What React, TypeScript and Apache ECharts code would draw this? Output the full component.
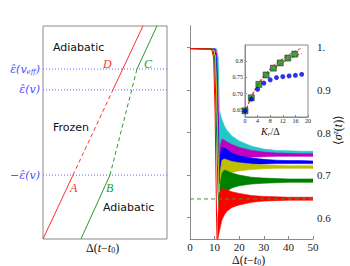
import React, { useEffect, useRef } from "react";
import * as echarts from "echarts";

// ---------- Left panel (schematic) ----------
const levelValues = [0.3, 0.7, 0.798];
const redSolidLow = [[0, 0], [0.242, 0.3]];
const redDashed = [[0.242, 0.3], [0.564, 0.7]];
const redSolidHigh = [[0.564, 0.7], [0.806, 1]];
const greenSolidLow = [[0.306, 0], [0.54, 0.3]];
const greenDashed = [[0.54, 0.3], [0.758, 0.798]];
const greenSolidHigh = [[0.758, 0.798], [0.919, 1]];

// ---------- Right panel (time evolution) ----------
const yTickValues = [0.6, 0.7, 0.8, 0.9, 1.0];
const yTickLabels = ["0.6", "0.7", "0.8", "0.9", "1."];
const steadyRef = [[0, 0.644], [50, 0.644]];

const bandT = [12, 13, 14, 15, 17, 20, 25, 30, 35, 40, 45, 50];
const redT = [11.3, 12, 13, 14, 15, 17, 20, 25, 30, 35, 40, 45, 50];
const redLo = [0.55, 0.57, 0.595, 0.607, 0.615, 0.624, 0.63, 0.636, 0.639, 0.64, 0.641, 0.641, 0.641];
const redHi = [0.6, 0.66, 0.668, 0.667, 0.665, 0.661, 0.657, 0.652, 0.65, 0.649, 0.648, 0.648, 0.648];
const greenLo = [0.62, 0.645, 0.655, 0.662, 0.67, 0.675, 0.679, 0.681, 0.682, 0.683, 0.683, 0.683];
const greenHi = [0.67, 0.705, 0.712, 0.71, 0.705, 0.7, 0.695, 0.693, 0.692, 0.691, 0.691, 0.691];
const yellowLo = [0.66, 0.685, 0.695, 0.7, 0.706, 0.71, 0.713, 0.715, 0.716, 0.716, 0.716, 0.716];
const yellowHi = [0.7, 0.735, 0.738, 0.736, 0.732, 0.729, 0.726, 0.724, 0.723, 0.722, 0.722, 0.722];
const blueLo = [0.68, 0.7, 0.708, 0.713, 0.718, 0.722, 0.725, 0.726, 0.727, 0.727, 0.727, 0.727];
const blueHi = [0.74, 0.765, 0.765, 0.76, 0.752, 0.745, 0.74, 0.737, 0.735, 0.734, 0.734, 0.733];
const magentaLo = [0.7, 0.72, 0.728, 0.733, 0.737, 0.74, 0.742, 0.743, 0.744, 0.744, 0.744, 0.744];
const magentaHi = [0.76, 0.785, 0.782, 0.778, 0.772, 0.765, 0.758, 0.754, 0.752, 0.751, 0.75, 0.75];
const cyanLo = [0.72, 0.735, 0.74, 0.742, 0.744, 0.746, 0.747, 0.748, 0.749, 0.749, 0.749, 0.749];
const cyanHi = [0.85, 0.83, 0.815, 0.805, 0.792, 0.78, 0.768, 0.761, 0.758, 0.757, 0.756, 0.756];

const redDrop = [[0, 0.997], [8.8, 0.996], [9.6, 0.975], [10.2, 0.85], [10.8, 0.6], [11.2, 0.5]];
const greenDrop = [[0, 0.997], [9.2, 0.996], [10.0, 0.975], [10.6, 0.85], [11.4, 0.66], [12, 0.62]];
const yellowDrop = [[0, 0.997], [9.6, 0.996], [10.4, 0.975], [11.0, 0.85], [11.7, 0.69], [12, 0.66]];
const blueDrop = [[0, 0.997], [10.0, 0.996], [10.7, 0.975], [11.2, 0.85], [11.8, 0.71], [12, 0.68]];
const magentaDrop = [[0, 0.997], [10.4, 0.996], [11.0, 0.975], [11.5, 0.85], [11.9, 0.72], [12, 0.7]];
const cyanDrop = [[0, 0.997], [10.8, 0.996], [11.4, 0.975], [11.8, 0.88], [12, 0.72]];

// ---------- Inset ----------
const insetYTicks = [0.65, 0.7, 0.75, 0.8];
const insetYLabels = ["0.65", "0.70", "0.75", "0.8"];
const blueKr = [0, 2, 4, 6, 8, 10, 12, 14, 16, 18];
const blueVals = [0.647, 0.683, 0.713, 0.732, 0.742, 0.749, 0.752, 0.754, 0.756, 0.759];
const squareKr = [0, 2, 4.4, 6.7, 9, 11.2, 13.6, 15.8];
const squareVals = [0.647, 0.687, 0.728, 0.757, 0.778, 0.794, 0.809, 0.821];
const fitKr = [0, 2, 4, 6, 8, 10, 12, 14, 16, 18];
const fitUpper = [0.64, 0.69, 0.727, 0.755, 0.776, 0.793, 0.807, 0.82, 0.83, 0.84];
const fitLower = [0.64, 0.688, 0.722, 0.748, 0.767, 0.782, 0.795, 0.806, 0.815, 0.823];

const SERIF = "Liberation Serif";
const AXIS = "#8a8a8a";

function seg(data: number[][], color: string, dashed: boolean) {
  return {
    type: "line", xAxisIndex: 0, yAxisIndex: 0, data, symbol: "none",
    lineStyle: { color, width: 1, type: dashed ? [4, 3] : "solid" }, silent: true,
  };
}

function band(t: number[], lo: number[], hi: number[], color: string) {
  return {
    type: "custom", xAxisIndex: 1, yAxisIndex: 1, silent: true, clip: true,
    data: t.map((x, i) => [x, lo[i], hi[i]]),
    renderItem: (params: any, api: any) => {
      if (params.dataIndex !== 0) return null;
      const n = params.dataInsideLength;
      const upper: number[][] = [];
      const lower: number[][] = [];
      for (let j = 0; j < n; j++) {
        upper.push(api.coord([api.value(0, j), api.value(2, j)]));
        lower.push(api.coord([api.value(0, j), api.value(1, j)]));
      }
      return {
        type: "polygon",
        shape: { points: upper.concat(lower.reverse()) },
        style: { fill: color, stroke: color, lineWidth: 0.6 },
      };
    },
  };
}

function drop(data: number[][], color: string) {
  return {
    type: "line", xAxisIndex: 1, yAxisIndex: 1, data, symbol: "none",
    lineStyle: { color, width: 1 }, silent: true,
  };
}

const subRich = (size: number, italic: boolean) => ({
  a: { fontFamily: SERIF, fontSize: size, fill: "#111" },
  i: { fontFamily: SERIF, fontStyle: "italic", fontSize: size, fill: "#111" },
  s: { fontFamily: SERIF, fontStyle: italic ? "italic" : "normal", fontSize: Math.round(size * 0.68), fill: "#111", padding: [Math.round(size * 0.45), 0, 0, 0] },
});

export default function App() {
  const ref = useRef<HTMLDivElement>(null);
  useEffect(() => {
    const chart = echarts.init(ref.current!, null, { renderer: "svg" });
    const levelLabel = (v: number) => {
      if (Math.abs(v - 0.798) < 0.01) return "{a|ε̂(v}{s|eff}{a|)}";
      if (Math.abs(v - 0.7) < 0.01) return "{a|ε̂(v)}";
      return "{a|−ε̂(v)}";
    };
    const cyan = "#22c8c8", magenta = "#bf00bf", blue = "#0000ff", yellow = "#bfbf00", green = "#008000", red = "#ff0000";
    chart.setOption({
      animation: false,
      grid: [
        { left: 43, top: 26, width: 124, height: 213, show: true, borderColor: AXIS, borderWidth: 1, backgroundColor: "transparent" },
        { left: 190, top: 26, width: 123, height: 213, show: false },
        { left: 245, top: 45, width: 63, height: 72, show: true, borderColor: AXIS, borderWidth: 1, backgroundColor: "#fff", z: 3 },
      ],
      xAxis: [
        { gridIndex: 0, type: "value", min: 0, max: 1, show: false },
        {
          gridIndex: 1, type: "value", min: 0, max: 50, interval: 10,
          axisLine: { lineStyle: { color: AXIS } }, axisTick: { inside: true, length: 3, lineStyle: { color: AXIS } },
          splitLine: { show: false },
          axisLabel: { fontFamily: SERIF, fontSize: 11, color: "#222", margin: 2 },
        },
        {
          gridIndex: 2, type: "value", min: 0, max: 20, interval: 4, z: 6,
          axisLine: { lineStyle: { color: AXIS } }, axisTick: { inside: true, length: 2, lineStyle: { color: AXIS } },
          splitLine: { show: false },
          axisLabel: { fontFamily: SERIF, fontSize: 6, color: "#222", margin: 1 },
        },
      ],
      yAxis: [
        {
          gridIndex: 0, type: "value", min: 0, max: 1,
          axisLine: { show: false }, axisTick: { show: false }, splitLine: { show: false },
          axisLabel: {
            customValues: levelValues, formatter: levelLabel, margin: 3,
            rich: {
              a: { fontFamily: "DejaVu Serif", fontStyle: "italic", fontSize: 11, color: "#4b4bff" },
              s: { fontFamily: "DejaVu Serif", fontStyle: "italic", fontSize: 7, color: "#4b4bff", padding: [5, 0, 0, 0] },
            },
          },
        },
        {
          gridIndex: 1, type: "value", min: 0.55, max: 1.05, position: "right",
          axisLine: { show: true, lineStyle: { color: AXIS } },
          axisTick: { inside: true, length: 3, customValues: yTickValues, lineStyle: { color: AXIS } },
          splitLine: { show: false },
          axisLabel: {
            customValues: yTickValues, fontFamily: SERIF, fontSize: 11, color: "#222", margin: 4,
            formatter: (v: number) => yTickLabels[yTickValues.findIndex((t) => Math.abs(t - v) < 1e-6)] ?? "",
          },
        },
        {
          gridIndex: 2, type: "value", min: 0.628, max: 0.849, z: 6,
          axisLine: { show: true, lineStyle: { color: AXIS } },
          axisTick: { inside: true, length: 2, customValues: insetYTicks, lineStyle: { color: AXIS } },
          splitLine: { show: false },
          axisLabel: {
            customValues: insetYTicks, fontFamily: SERIF, fontSize: 6, color: "#222", margin: 2,
            formatter: (v: number) => insetYLabels[insetYTicks.findIndex((t) => Math.abs(t - v) < 1e-6)] ?? "",
          },
        },
        {
          gridIndex: 1, type: "value", min: 0.55, max: 1.05, position: "left",
          axisLine: { show: true, lineStyle: { color: AXIS } }, axisTick: { show: false },
          axisLabel: { show: false }, splitLine: { show: false },
        },
      ],
      series: [
        // left panel level lines
        ...levelValues.map((v) => ({
          type: "line", xAxisIndex: 0, yAxisIndex: 0, data: [[0, v], [1, v]], symbol: "none",
          lineStyle: { color: "#6a6aff", width: 1, type: [1, 2] }, silent: true,
        })),
        seg(redSolidLow, "#ff3030", false),
        seg(redDashed, "#ff3030", true),
        seg(redSolidHigh, "#ff3030", false),
        seg(greenSolidLow, "#2a9a2a", false),
        seg(greenDashed, "#2a9a2a", true),
        seg(greenSolidHigh, "#2a9a2a", false),
        // right panel
        {
          type: "line", xAxisIndex: 1, yAxisIndex: 1, data: steadyRef, symbol: "none",
          lineStyle: { color: "#3a9a3a", width: 1, type: [4, 3] }, silent: true,
        },
        drop(cyanDrop, cyan),
        band(bandT, cyanLo, cyanHi, cyan),
        drop(magentaDrop, magenta),
        band(bandT, magentaLo, magentaHi, magenta),
        drop(blueDrop, blue),
        band(bandT, blueLo, blueHi, blue),
        drop(yellowDrop, yellow),
        band(bandT, yellowLo, yellowHi, yellow),
        drop(greenDrop, green),
        band(bandT, greenLo, greenHi, green),
        drop(redDrop, red),
        band(redT, redLo, redHi, red),
        // inset
        {
          type: "line", xAxisIndex: 2, yAxisIndex: 2, z: 5, data: fitKr.map((x, i) => [x, fitUpper[i]]), symbol: "none",
          smooth: true, lineStyle: { color: "#ff2020", width: 1, type: [3, 2] }, silent: true,
        },
        {
          type: "line", xAxisIndex: 2, yAxisIndex: 2, z: 5, data: fitKr.map((x, i) => [x, fitLower[i]]), symbol: "none",
          smooth: true, lineStyle: { color: "#ff2020", width: 1, type: [3, 2] }, silent: true,
        },
        {
          type: "scatter", xAxisIndex: 2, yAxisIndex: 2, z: 6, symbol: "rect", symbolSize: 6,
          data: squareKr.map((x, i) => [x, squareVals[i]]),
          itemStyle: { color: "#138a13", borderColor: "#111", borderWidth: 0.6 }, silent: true,
        },
        {
          type: "scatter", xAxisIndex: 2, yAxisIndex: 2, z: 6, symbol: "circle", symbolSize: 5,
          data: blueKr.map((x, i) => [x, blueVals[i]]),
          itemStyle: { color: "#0000e0" }, silent: true,
        },
      ],
      graphic: [
        { type: "text", left: 53, top: 42, style: { text: "Adiabatic", font: "11px 'DejaVu Sans'", fill: "#111" } },
        { type: "text", left: 53, top: 122, style: { text: "Frozen", font: "11px 'DejaVu Sans'", fill: "#111" } },
        { type: "text", left: 103, top: 202, style: { text: "Adiabatic", font: "11px 'DejaVu Sans'", fill: "#111" } },
        { type: "text", left: 103, top: 58, style: { text: "D", font: `italic 12px '${SERIF}'`, fill: "#ff3030" } },
        { type: "text", left: 144, top: 58, style: { text: "C", font: `italic 12px '${SERIF}'`, fill: "#2a9a2a" } },
        { type: "text", left: 70, top: 182, style: { text: "A", font: `italic 12px '${SERIF}'`, fill: "#ff3030" } },
        { type: "text", left: 106, top: 182, style: { text: "B", font: `italic 12px '${SERIF}'`, fill: "#2a9a2a" } },
        {
          type: "text", left: 86, top: 242,
          style: { text: "{a|Δ(}{i|t}{a|−}{i|t}{s|0}{a|)}", rich: subRich(12, false) },
        },
        {
          type: "text", left: 232, top: 254,
          style: { text: "{a|Δ(}{i|t}{a|−}{i|t}{s|0}{a|)}", rich: subRich(12, false) },
        },
        {
          type: "text", left: 261, top: 126, z: 10,
          style: { text: "{i|K}{s|r}{a|/Δ}", rich: subRich(10, true) },
        },
        {
          type: "text", x: 338, y: 130, rotation: Math.PI / 2,
          style: { text: "{a|⟨}{i|σ}{s|z}{a|(}{i|t}{a|)⟩}", align: "center", verticalAlign: "middle", rich: {
            a: { fontFamily: SERIF, fontSize: 12, fill: "#111" },
            i: { fontFamily: SERIF, fontStyle: "italic", fontSize: 12, fill: "#111" },
            s: { fontFamily: SERIF, fontStyle: "italic", fontSize: 8, fill: "#111", padding: [0, 0, 6, 0] },
          } },
        },
      ],
    });
    return () => chart.dispose();
  }, []);
  return <div ref={ref} style={{ width: 350, height: 266, position: "absolute", left: 0, top: 0 }} />;
}
